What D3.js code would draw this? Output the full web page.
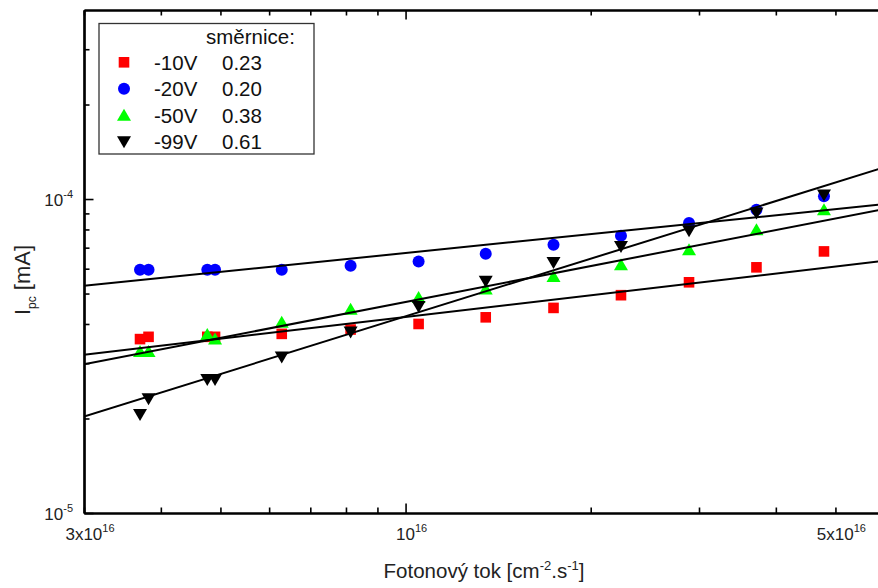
<!DOCTYPE html>
<html><head><meta charset="utf-8">
<script src="https://cdn.jsdelivr.net/npm/d3@7"></script>
<style>body{margin:0;background:#fff}svg{display:block;font-family:"Liberation Sans",Arial,sans-serif}</style>
</head><body>
<svg id="c" width="878" height="588"></svg>
<script>
// ---- data ----
const xVals = [3.70e16, 3.82e16, 4.76e16, 4.90e16, 6.29e16, 8.14e16, 1.05e17, 1.35e17, 1.74e17, 2.24e17, 2.89e17, 3.72e17, 4.79e17];
const seriesNames = ["-10V", "-20V", "-50V", "-99V"];
const seriesSlopes = ["0.23", "0.20", "0.38", "0.61"];
const red10   = [3.58e-5, 3.64e-5, 3.64e-5, 3.64e-5, 3.72e-5, 3.84e-5, 4.00e-5, 4.20e-5, 4.50e-5, 4.94e-5, 5.43e-5, 6.06e-5, 6.81e-5];
const blue20  = [5.95e-5, 5.95e-5, 5.95e-5, 5.95e-5, 5.95e-5, 6.13e-5, 6.33e-5, 6.69e-5, 7.15e-5, 7.64e-5, 8.39e-5, 9.25e-5, 1.02e-4];
const green50 = [3.27e-5, 3.27e-5, 3.70e-5, 3.58e-5, 4.05e-5, 4.46e-5, 4.86e-5, 5.17e-5, 5.67e-5, 6.18e-5, 6.90e-5, 7.99e-5, 9.25e-5];
const black99 = [2.06e-5, 2.31e-5, 2.66e-5, 2.66e-5, 3.14e-5, 3.77e-5, 4.55e-5, 5.47e-5, 6.28e-5, 7.06e-5, 7.93e-5, 9.03e-5, 1.03e-4];
// fit lines: I = A * (phi / 1e17)^k
const fitK = [0.23, 0.20, 0.38, 0.61];
const fitA = [4.21e-5, 6.73e-5, 4.70e-5, 4.23e-5];
const xMinorTicks = [3e16,4e16,5e16,6e16,7e16,8e16,9e16,2e17,3e17,4e17,5e17,6e17];
const xMajorTicks = [1e17];
const yMinorTicks = [2e-5,3e-5,4e-5,5e-5,6e-5,7e-5,8e-5,9e-5,2e-4,3e-4];
const yMajorTicks = [1e-5,1e-4];
const xTickLabels = [{v:3e16, base:"3x10", sup:"16"}, {v:1e17, base:"10", sup:"16"}, {v:5e17, base:"5x10", sup:"16"}];
const yTickLabels = [{v:1e-5, base:"10", sup:"-5"}, {v:1e-4, base:"10", sup:"-4"}];

// ---- layout ----
const L = 84, T = 10, B = 513;
const xDom = [3e16, 6.5e17];
const R = L + 615 * Math.log10(xDom[1] / xDom[0]);
const x = d3.scaleLog().domain(xDom).range([L, R]);
const y = d3.scaleLog().domain([1e-5, 4e-4]).range([B, T]);

const svg = d3.select("#c");
svg.append("defs").append("clipPath").attr("id","pc").append("rect")
  .attr("x", L).attr("y", T).attr("width", R - L).attr("height", B - T);

const colors = ["#ff0000", "#0000ff", "#00ff00", "#000000"];
const series = [red10, blue20, green50, black99];

function sym(g, i, cx, cy) {
  const c = colors[i];
  if (i === 0) g.append("rect").attr("x", cx-5.3).attr("y", cy-5.3).attr("width", 10.6).attr("height", 10.6).attr("fill", c);
  else if (i === 1) g.append("circle").attr("cx", cx).attr("cy", cy).attr("r", 6).attr("fill", c);
  else if (i === 2) g.append("path").attr("d", `M${cx-7},${cy+5.5}L${cx+7},${cy+5.5}L${cx},${cy-6.5}Z`).attr("fill", c);
  else g.append("path").attr("d", `M${cx-7},${cy-5.5}L${cx+7},${cy-5.5}L${cx},${cy+6.5}Z`).attr("fill", c);
}

// markers
const gm = svg.append("g").attr("clip-path","url(#pc)");
series.forEach((s, i) => s.forEach((v, j) => sym(gm, i, x(xVals[j]), y(v))));

// fit lines
const gl = svg.append("g").attr("clip-path","url(#pc)");
fitK.forEach((k, i) => {
  const pts = [xDom[0], xDom[1]].map(p => [x(p), y(fitA[i] * Math.pow(p / 1e17, k))]);
  gl.append("path").attr("d", d3.line()(pts)).attr("stroke", "#000").attr("stroke-width", 2).attr("fill", "none");
});

// axes
function styleAxis(g) {
  g.selectAll(".domain").attr("stroke", "#000").attr("stroke-width", 2.2);
  g.selectAll(".tick line").attr("stroke", "#000").attr("stroke-width", 1.6);
  g.selectAll("text").remove();
}
svg.append("g").attr("transform", `translate(0,${B})`)
  .call(d3.axisBottom(x).tickValues(xMinorTicks).tickSize(-5.5).tickSizeOuter(0).tickFormat("")).call(styleAxis);
svg.append("g").attr("transform", `translate(0,${B})`)
  .call(d3.axisBottom(x).tickValues(xMajorTicks).tickSize(-9.5).tickSizeOuter(0).tickFormat("")).call(styleAxis);
svg.append("g").attr("transform", `translate(0,${T})`)
  .call(d3.axisTop(x).tickValues(xMinorTicks).tickSize(-5.5).tickSizeOuter(0).tickFormat("")).call(styleAxis);
svg.append("g").attr("transform", `translate(0,${T})`)
  .call(d3.axisTop(x).tickValues(xMajorTicks).tickSize(-9.5).tickSizeOuter(0).tickFormat("")).call(styleAxis);
svg.append("g").attr("transform", `translate(${L},0)`)
  .call(d3.axisLeft(y).tickValues(yMinorTicks).tickSize(-5.5).tickSizeOuter(0).tickFormat("")).call(styleAxis);
svg.append("g").attr("transform", `translate(${L},0)`)
  .call(d3.axisLeft(y).tickValues(yMajorTicks).tickSize(-9.5).tickSizeOuter(0).tickFormat("")).call(styleAxis);

// tick labels
xTickLabels.forEach(t => {
  const tx = svg.append("text").attr("x", x(t.v) + 6).attr("y", B + 27).attr("text-anchor", "middle")
    .attr("font-size", 17).attr("fill", "#222");
  tx.append("tspan").text(t.base);
  tx.append("tspan").attr("dy", -8).attr("font-size", 11).text(t.sup);
});
yTickLabels.forEach(t => {
  const tx = svg.append("text").attr("x", 73).attr("y", y(t.v) + 7).attr("text-anchor", "end")
    .attr("font-size", 17).attr("fill", "#222");
  tx.append("tspan").text(t.base);
  tx.append("tspan").attr("dy", -8).attr("font-size", 11).text(t.sup);
});

// axis titles
const xt = svg.append("text").attr("x", 484).attr("y", 578).attr("text-anchor", "middle")
  .attr("font-size", 20.5).attr("fill", "#222");
xt.append("tspan").text("Fotonový tok [cm");
xt.append("tspan").attr("dy", -8).attr("font-size", 13).text("-2");
xt.append("tspan").attr("dy", 8).text(".s");
xt.append("tspan").attr("dy", -8).attr("font-size", 13).text("-1");
xt.append("tspan").attr("dy", 8).text("]");

const yt = svg.append("text").attr("transform", "translate(30,280) rotate(-90)").attr("text-anchor", "middle")
  .attr("font-size", 22).attr("fill", "#222");
yt.append("tspan").text("I");
yt.append("tspan").attr("dy", 6).attr("font-size", 12).text("pc");
yt.append("tspan").attr("dy", -6).text(" [mA]");

// legend
const lg = svg.append("g");
lg.append("rect").attr("x", 99).attr("y", 23.5).attr("width", 215).attr("height", 130.5)
  .attr("fill", "#fff").attr("stroke", "#333").attr("stroke-width", 1.3);
lg.append("text").attr("x", 206).attr("y", 44).attr("font-size", 20.5).attr("fill", "#111").text("směrnice:");
seriesNames.forEach((n, i) => {
  const cy = 62.3 + i * 26.5;
  sym(lg, i, 124, cy);
  lg.append("text").attr("x", 154).attr("y", cy + 7.5).attr("font-size", 20.5).attr("fill", "#111").text(n);
  lg.append("text").attr("x", 222).attr("y", cy + 7.5).attr("font-size", 20.5).attr("fill", "#111").text(seriesSlopes[i]);
});
</script>
</body></html>
